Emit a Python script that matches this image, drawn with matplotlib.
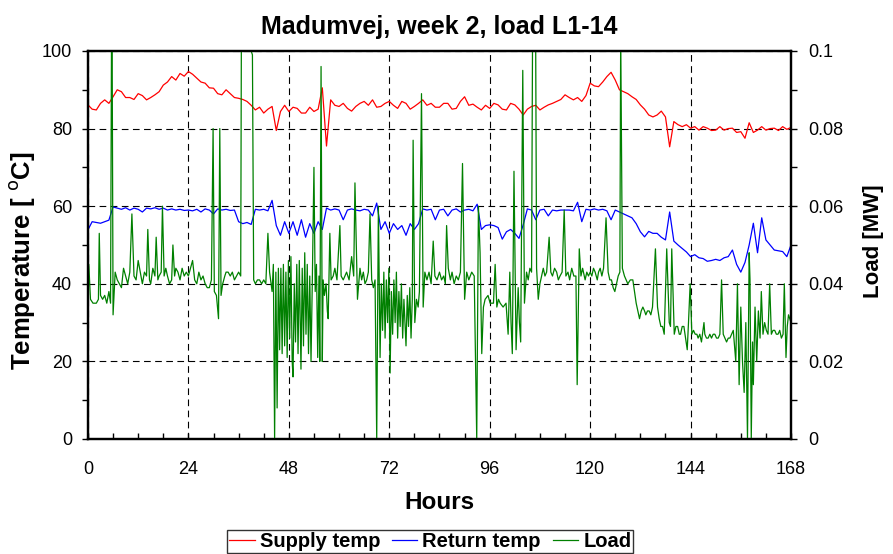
import numpy as np
import matplotlib
matplotlib.use("Agg")
from matplotlib import pyplot as plt
from matplotlib.ticker import MultipleLocator

plt.rcParams['font.family'] = ['Liberation Sans', 'DejaVu Sans']

# hourly temperatures, hour 0..168
hours = np.arange(0, 169)
supply = [86.1, 85.0, 84.8, 86.5, 87.4, 86.5, 88.2, 90.0, 89.5, 88.0, 88.0, 87.5, 89.0, 88.5, 87.4, 88.0,
          88.7, 89.5, 91.2, 92.0, 93.4, 92.5, 94.2, 93.5, 94.7, 94.0, 93.0, 92.0, 91.7, 90.5, 90.4, 89.0,
          88.7, 90.0, 89.0, 88.0, 87.8, 87.5, 87.0, 86.0, 84.8, 85.5, 84.0, 85.0, 85.7, 79.5, 84.4, 86.0,
          84.4, 85.5, 85.2, 84.0, 84.0, 85.5, 84.4, 85.0, 90.5, 75.5, 87.4, 86.0, 85.7, 86.5, 85.2, 84.5,
          85.7, 86.5, 87.0, 86.0, 87.4, 85.5, 85.7, 86.5, 87.0, 86.0, 85.2, 87.0, 86.5, 85.0, 85.7, 86.5,
          87.4, 86.0, 86.5, 85.5, 85.5, 86.5, 86.5, 85.0, 85.2, 87.0, 88.2, 86.0, 86.3, 85.5, 84.8, 86.0,
          85.2, 86.5, 86.1, 85.0, 84.8, 86.5, 86.1, 85.0, 83.5, 85.0, 85.7, 86.0, 84.8, 85.5, 86.1, 86.5,
          87.0, 87.5, 88.7, 88.0, 87.4, 88.0, 87.0, 88.5, 91.7, 91.0, 90.8, 92.0, 93.4, 94.5, 92.5, 90.0,
          89.5, 89.0, 88.2, 87.5, 86.1, 85.0, 83.5, 83.0, 83.5, 84.5, 83.0, 75.3, 81.8, 81.0, 80.5, 81.0,
          80.1, 80.5, 79.6, 80.5, 80.1, 79.5, 79.6, 80.5, 79.6, 80.0, 80.1, 79.0, 79.2, 77.5, 81.5, 79.0,
          79.6, 80.5, 79.6, 80.0, 80.1, 79.5, 80.5, 79.8, 80.3]
ret = [53.9, 56.0, 55.8, 55.6, 56.0, 56.4, 59.8, 59.5, 59.2, 59.6, 59.0, 59.5, 59.2, 58.5, 59.5, 59.3,
       59.6, 59.2, 59.5, 59.0, 59.3, 59.0, 59.2, 58.9, 59.0, 58.8, 59.2, 58.5, 59.3, 59.0, 58.0, 59.3,
       59.0, 59.2, 58.9, 59.0, 56.0, 55.5, 55.8, 55.3, 59.2, 59.0, 59.2, 58.8, 61.5, 55.0, 52.5, 56.0,
       53.0, 56.0, 52.5, 56.5, 52.0, 55.5, 53.0, 56.0, 54.0, 59.5, 59.0, 59.3, 59.0, 56.5, 59.0, 59.3,
       59.0, 58.8, 59.2, 59.0, 57.5, 60.8, 54.0, 56.0, 53.0, 55.5, 54.0, 55.0, 52.5, 55.5, 54.0, 55.5,
       59.3, 59.0, 59.2, 56.5, 59.0, 59.2, 57.5, 59.0, 59.3, 58.5, 59.0, 59.2, 58.8, 60.5, 54.0, 55.0,
       55.2, 55.0, 54.5, 51.5, 53.4, 54.0, 53.0, 51.7, 55.2, 59.3, 59.0, 56.5, 59.0, 59.2, 57.5, 59.0,
       58.8, 59.0, 59.0, 59.0, 58.8, 61.0, 56.0, 59.2, 59.0, 59.3, 59.0, 59.2, 58.8, 56.5, 59.0, 58.5,
       58.0, 57.5, 57.0, 55.5, 53.4, 52.1, 53.5, 53.0, 53.0, 52.0, 51.3, 58.5, 51.0, 50.0, 49.1, 48.2,
       47.0, 47.5, 46.7, 46.5, 45.8, 46.0, 46.3, 46.0, 46.7, 47.0, 48.7, 45.0, 43.0, 45.5, 50.0, 55.6,
       48.0, 57.0, 51.3, 50.0, 48.7, 48.5, 48.3, 47.0, 50.0]

# load (MW), uneven time steps
load_h = [0.0, 0.2, 0.6, 1.2, 2.0, 2.5, 2.7, 3.0, 3.5, 4.0, 4.5, 5.0, 5.4, 5.7, 6.0, 6.5, 7.0, 7.5, 8.0,
          8.5, 9.0, 9.5, 10.0, 10.5, 11.0, 11.5, 12.0, 12.5, 13.0, 13.5, 14.0, 14.3, 14.7, 15.0, 15.5,
          16.0, 16.3, 16.7, 17.0, 17.5, 17.8, 18.2, 18.6, 19.0, 19.5, 20.0, 20.3, 20.7, 21.0, 21.5, 22.0,
          22.5, 23.0, 23.5, 24.0, 24.5, 25.0, 25.5, 26.0, 26.5, 27.0, 27.5, 28.0, 28.5, 29.0, 29.5, 29.9,
          30.2, 30.7, 31.2, 31.5, 31.8, 32.2, 32.7, 33.0, 33.5, 34.0, 34.5, 35.0, 35.5, 36.0, 36.5, 36.7,
          37.8, 39.0, 39.3, 39.6, 40.0, 40.5, 41.0, 41.5, 42.0, 42.5, 43.0, 43.4, 44.0, 44.3, 44.6, 44.9,
          45.2, 45.5, 45.8, 46.1, 46.4, 46.7, 47.0, 47.3, 47.6, 47.9, 48.2, 48.5, 48.8, 49.0, 49.3, 49.6,
          49.9, 50.2, 50.5, 50.9, 51.2, 51.5, 51.8, 52.1, 52.4, 52.7, 53.0, 53.3, 53.6, 54.0, 54.3, 54.6,
          54.9, 55.2, 55.4, 55.7, 56.0, 56.2, 56.5, 56.9, 57.2, 57.4, 57.8, 58.1, 58.6, 59.0, 59.5, 60.2,
          60.5, 61.0, 61.8, 62.4, 63.0, 63.5, 63.8, 64.4, 65.0, 65.4, 65.8, 66.2, 66.6, 67.0, 67.4, 67.8,
          68.2, 68.6, 69.0, 69.4, 69.8, 70.1, 70.4, 70.7, 71.0, 71.3, 71.6, 71.9, 72.2, 72.5, 72.8, 73.1,
          73.4, 73.7, 74.0, 74.3, 74.6, 74.9, 75.2, 75.5, 76.0, 76.3, 76.6, 76.9, 77.2, 77.5, 77.7, 78.1,
          78.5, 78.9, 79.2, 79.7, 80.1, 80.5, 81.0, 81.5, 82.0, 82.5, 82.9, 83.4, 84.0, 84.5, 85.0, 85.4,
          85.7, 86.1, 86.6, 87.0, 87.5, 88.0, 88.5, 89.0, 89.5, 90.0, 90.5, 91.0, 91.7, 92.3, 92.9, 93.3,
          93.7, 94.1, 94.5, 94.9, 95.6, 96.1, 96.9, 97.3, 97.7, 98.1, 98.5, 99.2, 99.9, 100.4, 100.8,
          101.1, 101.4, 101.8, 102.3, 102.8, 103.1, 103.4, 103.9, 104.3, 104.8, 105.2, 105.6, 106.0,
          106.3, 106.9, 107.2, 107.6, 108.0, 108.4, 108.8, 109.2, 109.6, 110.2, 110.6, 111.0, 111.5,
          112.0, 112.4, 112.8, 113.3, 113.8, 114.2, 114.7, 115.1, 115.6, 116.1, 116.6, 116.9, 117.4,
          117.8, 118.2, 118.8, 119.2, 119.6, 120.0, 120.4, 120.8, 121.2, 121.7, 122.0, 122.4, 122.8,
          123.2, 123.8, 124.3, 124.7, 125.1, 125.5, 125.9, 126.3, 126.7, 127.1, 127.3, 127.7, 128.2,
          128.6, 129.0, 129.6, 130.2, 130.6, 131.0, 131.4, 131.8, 132.2, 132.6, 133.0, 133.3, 133.7,
          134.1, 134.5, 134.9, 135.6, 136.1, 136.5, 136.9, 137.3, 137.7, 138.3, 138.9, 139.2, 139.5,
          140.1, 140.5, 140.9, 141.3, 141.6, 142.0, 142.4, 142.8, 143.2, 143.5, 143.9, 144.3, 144.7,
          145.1, 145.5, 145.8, 146.2, 146.6, 147.2, 147.4, 147.8, 148.2, 148.6, 149.0, 149.4, 149.8,
          150.2, 150.6, 151.0, 151.4, 151.8, 152.2, 152.6, 153.0, 153.4, 153.8, 154.2, 154.8, 155.2,
          155.6, 156.0, 156.4, 156.8, 157.2, 157.6, 158.0, 158.2, 158.5, 158.8, 159.0, 159.4, 159.8,
          160.2, 160.6, 160.9, 161.3, 161.7, 162.1, 162.5, 162.9, 163.3, 163.7, 164.1, 164.5, 164.9,
          165.3, 165.7, 166.1, 166.4, 166.8, 167.1, 167.4, 168.0]
load_mw = [0.033, 0.045, 0.036, 0.035, 0.035, 0.036, 0.053, 0.037, 0.036, 0.037, 0.035, 0.038, 0.035,
           0.125, 0.032, 0.043, 0.041, 0.040, 0.039, 0.044, 0.042, 0.040, 0.043, 0.058, 0.042, 0.041,
           0.046, 0.043, 0.040, 0.043, 0.042, 0.054, 0.041, 0.040, 0.044, 0.042, 0.052, 0.041, 0.042,
           0.043, 0.060, 0.042, 0.044, 0.042, 0.040, 0.041, 0.050, 0.042, 0.044, 0.043, 0.041, 0.044,
           0.042, 0.043, 0.042, 0.044, 0.046, 0.041, 0.040, 0.043, 0.041, 0.042, 0.040, 0.039, 0.039,
           0.041, 0.080, 0.038, 0.037, 0.031, 0.080, 0.037, 0.040, 0.042, 0.043, 0.043, 0.042, 0.043,
           0.041, 0.042, 0.043, 0.042, 0.120, 0.130, 0.100, 0.099, 0.041, 0.040, 0.041, 0.041, 0.040,
           0.041, 0.040, 0.053, 0.043, 0.038, 0.045, 0.000, 0.043, 0.008, 0.044, 0.023, 0.044, 0.022,
           0.045, 0.024, 0.043, 0.021, 0.046, 0.026, 0.047, 0.020, 0.016, 0.040, 0.025, 0.045, 0.022,
           0.046, 0.018, 0.044, 0.024, 0.048, 0.027, 0.045, 0.022, 0.042, 0.020, 0.040, 0.070, 0.038,
           0.045, 0.021, 0.042, 0.020, 0.096, 0.020, 0.041, 0.037, 0.040, 0.033, 0.031, 0.053, 0.041,
           0.042, 0.044, 0.041, 0.055, 0.042, 0.041, 0.043, 0.041, 0.047, 0.042, 0.066, 0.036, 0.044,
           0.041, 0.043, 0.040, 0.041, 0.043, 0.058, 0.041, 0.039, 0.041, 0.000, 0.060, 0.021, 0.040,
           0.028, 0.043, 0.026, 0.041, 0.030, 0.044, 0.017, 0.038, 0.027, 0.041, 0.030, 0.043, 0.026,
           0.038, 0.029, 0.040, 0.026, 0.036, 0.024, 0.037, 0.029, 0.039, 0.026, 0.036, 0.077, 0.030,
           0.036, 0.034, 0.038, 0.089, 0.034, 0.043, 0.041, 0.043, 0.040, 0.051, 0.042, 0.041, 0.043,
           0.041, 0.042, 0.040, 0.055, 0.044, 0.041, 0.043, 0.040, 0.042, 0.041, 0.043, 0.071, 0.036,
           0.043, 0.041, 0.043, 0.042, 0.000, 0.060, 0.048, 0.022, 0.034, 0.036, 0.037, 0.035, 0.035,
           0.045, 0.034, 0.036, 0.035, 0.034, 0.035, 0.027, 0.043, 0.030, 0.022, 0.069, 0.023, 0.039,
           0.030, 0.025, 0.095, 0.035, 0.043, 0.041, 0.044, 0.043, 0.120, 0.125, 0.044, 0.036, 0.040,
           0.042, 0.044, 0.042, 0.043, 0.052, 0.043, 0.042, 0.044, 0.043, 0.041, 0.042, 0.043, 0.059,
           0.042, 0.043, 0.041, 0.044, 0.042, 0.042, 0.014, 0.049, 0.042, 0.044, 0.041, 0.043, 0.042,
           0.043, 0.042, 0.044, 0.043, 0.041, 0.043, 0.044, 0.042, 0.044, 0.057, 0.043, 0.041, 0.041,
           0.039, 0.038, 0.040, 0.042, 0.043, 0.105, 0.044, 0.042, 0.041, 0.040, 0.041, 0.041, 0.038,
           0.035, 0.033, 0.031, 0.033, 0.034, 0.033, 0.032, 0.033, 0.033, 0.032, 0.034, 0.049, 0.034,
           0.031, 0.029, 0.029, 0.027, 0.049, 0.030, 0.029, 0.049, 0.027, 0.029, 0.029, 0.027, 0.027,
           0.029, 0.029, 0.026, 0.023, 0.030, 0.040, 0.027, 0.028, 0.027, 0.027, 0.026, 0.027, 0.025,
           0.030, 0.027, 0.026, 0.026, 0.027, 0.026, 0.027, 0.027, 0.026, 0.026, 0.027, 0.041, 0.027,
           0.026, 0.025, 0.026, 0.026, 0.027, 0.028, 0.020, 0.040, 0.014, 0.034, 0.020, 0.012, 0.030,
           0.000, 0.048, 0.041, 0.000, 0.025, 0.014, 0.034, 0.020, 0.033, 0.026, 0.038, 0.027, 0.030,
           0.028, 0.027, 0.040, 0.027, 0.028, 0.028, 0.027, 0.027, 0.028, 0.026, 0.027, 0.040, 0.021,
           0.029, 0.032, 0.030]

fig = plt.figure(figsize=(8.93, 5.54), dpi=100)
ax = fig.add_axes([0.0985, 0.2076, 0.7873, 0.7004])
ax2 = ax.twinx()

l1, = ax.plot(hours, supply, color='red', lw=0.9, label='Supply temp')
l2, = ax.plot(hours, ret, color='blue', lw=0.9, label='Return temp')
l3, = ax2.plot(load_h, load_mw, color='green', lw=0.9, label='Load')

ax.set_xlim(0, 168)
ax.set_ylim(0, 100)
ax2.set_ylim(0, 0.1)
ax.xaxis.set_major_locator(MultipleLocator(24))
ax.xaxis.set_minor_locator(MultipleLocator(6))
ax.yaxis.set_major_locator(MultipleLocator(20))
ax.yaxis.set_minor_locator(MultipleLocator(10))
ax2.yaxis.set_minor_locator(MultipleLocator(0.01))
ax2.set_yticks([0, 0.02, 0.04, 0.06, 0.08, 0.1])
ax2.set_yticklabels(['0', '0.02', '0.04', '0.06', '0.08', '0.1'])

ax.grid(True, which='major', color='black', linestyle=(0, (6, 4)), lw=0.8)
ax.tick_params(axis='x', which='both', direction='in', length=4, width=1, labelsize=13, pad=16)
ax.tick_params(axis='y', which='both', direction='out', length=4.5, width=1, labelsize=13, pad=7)
ax2.tick_params(axis='y', which='both', direction='out', length=4.5, width=1, labelsize=13, pad=8)
for a in (ax, ax2):
    for s in a.spines.values():
        s.set_linewidth(1.6)

ax.set_title('Madumvej, week 2, load L1-14', fontsize=18, fontweight='bold', pad=12)
ax.set_xlabel('Hours', fontsize=17.5, fontweight='bold', labelpad=9)
ax.set_ylabel('Temperature [ $^{\\mathrm{o}}$C]', fontsize=18.5, fontweight='bold', labelpad=1)
ax.yaxis.set_label_coords(-0.073, 0.46)
ax2.set_ylabel('Load [MW]', fontsize=16, fontweight='bold', labelpad=17)
ax2.yaxis.set_label_coords(1.103, 0.51)

leg = fig.legend(handles=[l1, l2, l3], loc='lower center', bbox_to_anchor=(0.482, 0.002), ncol=3,
                 fontsize=14.5, frameon=True, fancybox=False, edgecolor='black',
                 handlelength=1.25, columnspacing=0.6, handletextpad=0.25, borderpad=0.1,
                 borderaxespad=0.0)
leg.get_frame().set_linewidth(1.0)
for t in leg.get_texts():
    t.set_fontweight('bold')

fig.savefig('out.png', dpi=100)
